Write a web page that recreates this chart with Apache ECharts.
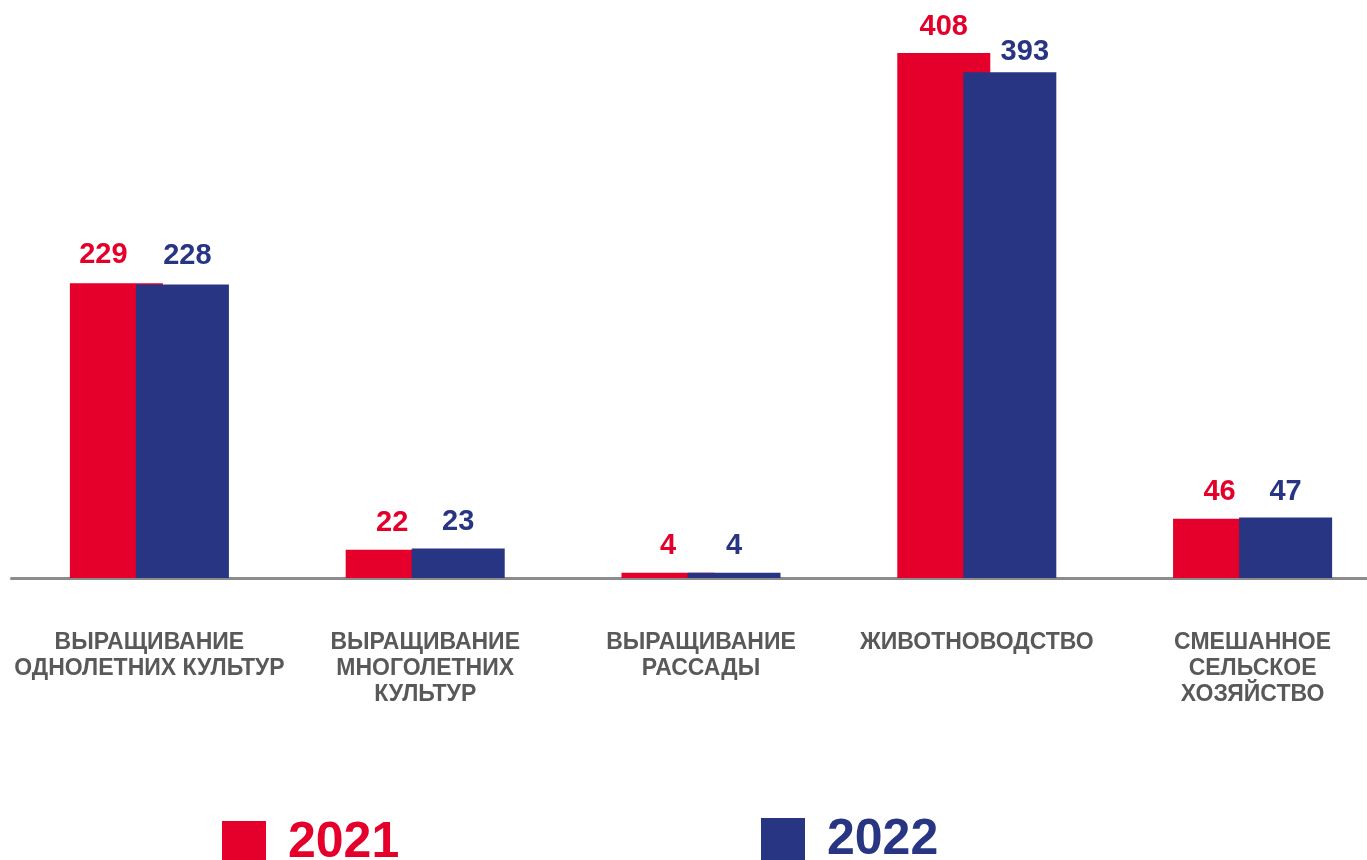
<!DOCTYPE html>
<html>
<head>
<meta charset="utf-8">
<script src="https://cdn.jsdelivr.net/npm/echarts@6/dist/echarts.min.js"></script>
<style>
html,body{margin:0;padding:0;background:#fff;overflow:hidden;width:1367px;height:860px;}
#chart{width:1391px;height:860px;}
</style>
</head>
<body>
<div id="chart"></div>
<script>
const categories = [
  'ВЫРАЩИВАНИЕ\nОДНОЛЕТНИХ КУЛЬТУР',
  'ВЫРАЩИВАНИЕ\nМНОГОЛЕТНИХ\nКУЛЬТУР',
  'ВЫРАЩИВАНИЕ\nРАССАДЫ',
  'ЖИВОТНОВОДСТВО',
  'СМЕШАННОЕ\nСЕЛЬСКОЕ\nХОЗЯЙСТВО'
];
const seriesNames = ['2021', '2022'];
const values2021 = [229, 22, 4, 408, 46];
const values2022 = [228, 23, 4, 393, 47];

// label nudges (style only)
const offs2021 = [[-13, -2], [0, 0], [0, 0], [0, 0], [0, 0]];
const offs2022 = [[5, -2], [0, 0], [0, 0], [15, 6], [0, 1]];

const RED = '#E4002B';
const BLUE = '#283583';

function mk(vals, offs) {
  return vals.map((v, i) => ({ value: v, label: { offset: offs[i] } }));
}

const chart = echarts.init(document.getElementById('chart'), null, { renderer: 'canvas' });
const legendText = (c) => ({
  color: c, fontSize: 50, fontWeight: 'bold',
  fontFamily: "'Liberation Sans', Arial, sans-serif",
  padding: [0, 0, 0, 17]
});
chart.setOption({
  animation: false,
  backgroundColor: '#ffffff',
  grid: { left: 11.5, right: 0.5, top: 53, bottom: 282, containLabel: false },
  legend: [
    { data: [seriesNames[0]], left: 222, top: 818, padding: 0, itemWidth: 44, itemHeight: 44, icon: 'rect',
      textStyle: legendText(RED) },
    { data: [seriesNames[1]], left: 761, top: 815, padding: 0, itemWidth: 44, itemHeight: 44, icon: 'rect',
      textStyle: legendText(BLUE) }
  ],
  xAxis: {
    type: 'category',
    data: categories,
    axisLine: { show: true, lineStyle: { color: '#8c8c8c', width: 3 } },
    axisTick: { show: false },
    axisLabel: {
      interval: 0, margin: 52, color: '#595959', fontSize: 23, fontWeight: 'bold',
      lineHeight: 26, fontFamily: "'Liberation Sans', Arial, sans-serif", align: 'center'
    }
  },
  yAxis: {
    type: 'value', min: 0, max: 408, show: false,
    splitLine: { show: false }
  },
  series: [
    {
      name: seriesNames[0], type: 'bar', data: mk(values2021, offs2021),
      barWidth: 93, barGap: '-29%',
      itemStyle: { color: RED },
      label: { show: true, position: 'top', distance: 12, color: RED, fontSize: 29,
        fontWeight: 'bold', fontFamily: "'Liberation Sans', Arial, sans-serif" }
    },
    {
      name: seriesNames[1], type: 'bar', data: mk(values2022, offs2022),
      barWidth: 93, barGap: '-29%',
      itemStyle: { color: BLUE },
      label: { show: true, position: 'top', distance: 12, color: BLUE, fontSize: 29,
        fontWeight: 'bold', fontFamily: "'Liberation Sans', Arial, sans-serif" }
    }
  ]
});
</script>
</body>
</html>
